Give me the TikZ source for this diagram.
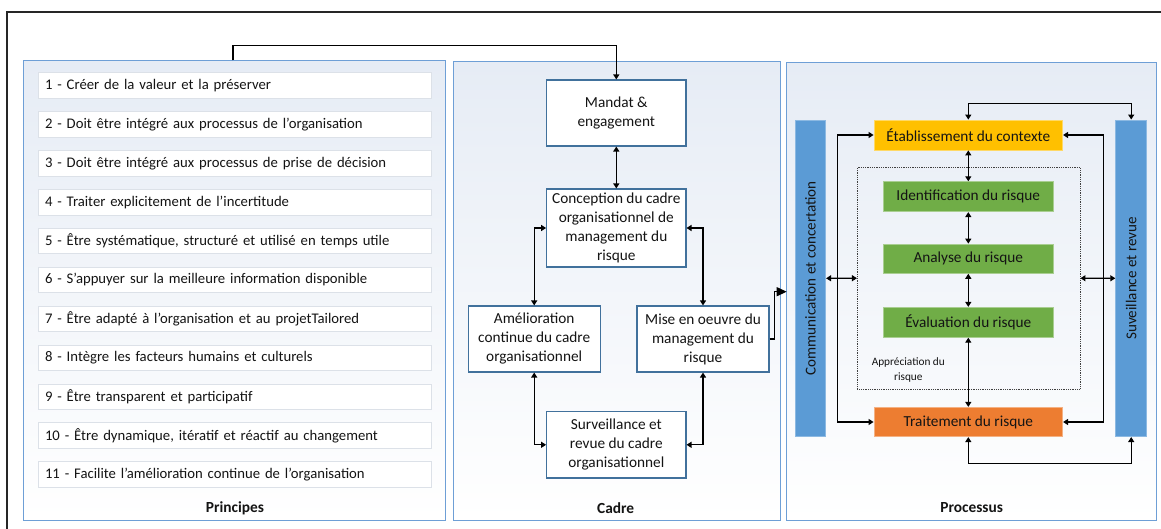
\documentclass[tikz,border=0pt]{standalone}
\usepackage{fontspec}
\setmainfont{Carlito}
\usetikzlibrary{arrows.meta,calc}
\definecolor{panelborder}{HTML}{6E9FD6}
\definecolor{paneltop}{HTML}{E6ECF5}
\definecolor{boxborder}{HTML}{41719C}
\definecolor{itemborder}{HTML}{DCE1E8}
\definecolor{barblue}{HTML}{5B9BD5}
\definecolor{gold}{HTML}{FFC000}
\definecolor{leaf}{HTML}{70AD47}
\definecolor{tangerine}{HTML}{ED7D31}
\definecolor{txt}{HTML}{141414}
\begin{document}
\begin{tikzpicture}[x=1pt,y=-1pt,
  panel/.style={draw=panelborder,line width=1pt,top color=paneltop,bottom color=white,inner sep=0pt},
  item/.style={draw=itemborder,fill=white,line width=0.8pt,minimum width=393pt,minimum height=25.5pt,
    text width=379pt,inner xsep=7pt,inner ysep=0pt,align=left,font=\fontsize{14.7}{16}\selectfont,text=txt},
  cbox/.style={draw=boxborder,fill=white,line width=1.1pt,inner sep=0pt,align=center,
    font=\fontsize{15.3}{19}\selectfont,text=txt},
  pbox/.style={line width=0.8pt,inner sep=0pt,align=center,font=\fontsize{15.3}{18}\selectfont,text=txt},
  bar/.style={draw=barblue!70!white,fill=barblue,line width=0.8pt,inner sep=0pt,rotate=90,
    minimum width=316.7pt,font=\fontsize{15.1}{18}\selectfont,text=txt},
  plabel/.style={font=\fontsize{15.4}{18}\selectfont\bfseries,text=txt},
  dbl/.style={line width=1.2pt,{Triangle[length=5pt,width=6pt]}-{Triangle[length=5pt,width=6pt]}},
  arr/.style={line width=1.2pt,-{Triangle[length=5pt,width=6pt]}},
  bigarr/.style={line width=1.2pt,-{Triangle[length=10pt,width=9pt]}}
]
\useasboundingbox (0,0) rectangle (1161,529);
\fill[white] (0,0) rectangle (1161,529);
% outer frame (cut off on right and bottom)
\draw[line width=1.2pt,black!85] (7,529) -- (7,12) -- (1161,12);

% panels
\node[panel,minimum width=422pt,minimum height=459pt] (pp) at (234,290.5) {};
\node[panel,minimum width=327pt,minimum height=458pt] (cp) at (616.5,291) {};
\node[panel,minimum width=370pt,minimum height=458pt] (prp) at (971.8,291.7) {};

\node[plabel] (lp) at (235,508) {Principes};
\node[plabel] (lc) at (615.7,508) {Cadre};
\node[plabel] (lpr) at (971.7,508) {Processus};

% principles
\foreach \i/\t in {1/{1 - Créer de la valeur et la préserver},
  2/{2 - Doit être intégré aux processus de l'organisation},
  3/{3 - Doit être intégré aux processus de prise de décision},
  4/{4 - Traiter explicitement de l'incertitude},
  5/{5 - Être systématique, structuré et utilisé en temps utile},
  6/{6 - S'appuyer sur la meilleure information disponible},
  7/{7 - Être adapté à l'organisation et au projetTailored},
  8/{8 - Intègre les facteurs humains et culturels},
  9/{9 - Être transparent et participatif},
  10/{10 - Être dynamique, itératif et réactif au changement},
  11/{11 - Facilite l'amélioration continue de l'organisation}}
  \node[item] (p\i) at (234.5,{85.5+38.9*(\i-1)}) {\t};

% cadre
\node[cbox,minimum width=139.3pt,minimum height=66pt] (mandat) at (616.3,113) {Mandat \&\\engagement};
\node[cbox,minimum width=139.3pt,minimum height=78pt] (concept) at (616.3,228) {Conception du cadre\\organisationnel de\\management du\\risque};
\node[cbox,minimum width=131.7pt,minimum height=66pt] (amelio) at (534.2,339) {Amélioration\\continue du cadre\\organisationnel};
\node[cbox,minimum width=132pt,minimum height=66pt] (mise) at (703,339) {Mise en oeuvre du\\management du\\risque};
\node[cbox,minimum width=139.3pt,minimum height=66.3pt] (survc) at (616.3,444.8) {Surveillance et\\revue du cadre\\organisationnel};

\draw[arr] (pp.north -| 233,0) -- ++(0,-15.3) -| (mandat.north);
\draw[dbl] (mandat.south) -- (concept.north);
\draw[dbl] (amelio.north) |- (concept.west);
\draw[dbl] (mise.north) |- (concept.east);
\draw[dbl] (amelio.south) |- (survc.west);
\draw[dbl] (mise.south) |- (survc.east);
\coordinate (pin) at (786.7,291.7);
\draw[bigarr] (mise.east) -- ++(5,0) |- (pin);

% processus
\node[draw=black!75,densely dotted,line width=0.8pt,minimum width=222.7pt,minimum height=221.7pt,inner sep=0pt] (appr) at (968.7,278.2) {};
\node[font=\fontsize{11.3}{14.5}\selectfont,text=txt,align=center,inner sep=0pt] (apprl) at (908.3,370) {Appréciation du\\risque};

\node[bar,minimum height=30.4pt] (comm) at (810.5,278.3) {Communication et concertation};
\node[bar,minimum height=31pt] (survb) at (1131.2,278.3) {Suveillance et revue};

\node[pbox,draw=gold!60!white,fill=gold,minimum width=188.7pt,minimum height=30pt] (etab) at (968.3,135) {Établissement du contexte};
\node[pbox,draw=leaf!60!white,fill=leaf,minimum width=170pt,minimum height=30pt] (ident) at (968.3,196.7) {Identification du risque};
\node[pbox,draw=leaf!60!white,fill=leaf,minimum width=170pt,minimum height=29.3pt] (analyse) at (968.3,258.7) {Analyse du risque};
\node[pbox,draw=leaf!60!white,fill=leaf,minimum width=170pt,minimum height=30pt] (eval) at (968.3,322.3) {Évaluation du risque};
\node[pbox,draw=tangerine!60!white,fill=tangerine,minimum width=188.7pt,minimum height=29.4pt] (trait) at (968.3,422) {Traitement du risque};

\draw[dbl] (etab.south) -- (ident.north);
\draw[dbl] (ident.south) -- (analyse.north);
\draw[dbl] (analyse.south) -- (eval.north);
\draw[dbl] (eval.south) -- (trait.north);
\draw[dbl] (etab.north) -- ++(0,-15.7) -| (survb.east);
\draw[dbl] (trait.south) -- ++(0,26) -| (survb.west);
\draw[dbl] (etab.west) -- ++(-35.7,0) |- (trait.west);
\draw[dbl] (etab.east) -- ++(40.6,0) |- (trait.east);
\draw[dbl] (comm.south) -- (appr.west);
\draw[dbl] (appr.east) -- (survb.north);
\end{tikzpicture}
\end{document}
